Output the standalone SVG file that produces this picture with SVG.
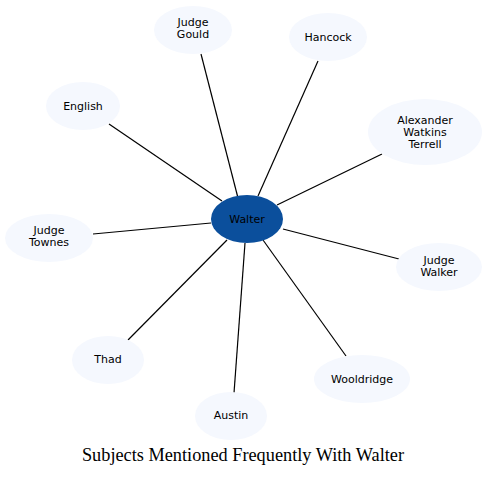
<svg xmlns="http://www.w3.org/2000/svg" width="487" height="477" viewBox="0 0 487 477">
<style>
.n{fill:#f5f8fe;stroke:none}
.c{fill:#0b4f9c;stroke:none}
.t{font-family:"DejaVu Sans",sans-serif;font-size:11px;fill:#000;text-anchor:middle}
.e{stroke:#000;stroke-width:1.2;fill:none}
.title{font-family:"Liberation Serif",serif;font-size:18.3px;fill:#000;text-anchor:middle}
</style>
<rect width="487" height="477" fill="#fff"/>
<g id="connectors">
<line class="e" x1="201" y1="54" x2="238" y2="198"/>
<line class="e" x1="318" y1="61" x2="258" y2="196"/>
<line class="e" x1="382" y1="154" x2="277" y2="205"/>
<line class="e" x1="109" y1="124" x2="222" y2="201"/>
<line class="e" x1="93" y1="234" x2="211" y2="223"/>
<line class="e" x1="399" y1="259" x2="283" y2="229"/>
<line class="e" x1="128" y1="340" x2="227" y2="240"/>
<line class="e" x1="234" y1="393" x2="245" y2="243"/>
<line class="e" x1="346" y1="356" x2="263" y2="240"/>
</g>
<g id="walter"><ellipse class="c" cx="247" cy="219" rx="36" ry="24"/><text class="t" x="247" y="223">Walter</text></g>
<g id="judge-gould"><ellipse class="n" cx="193" cy="30" rx="39" ry="24"/><text class="t" x="193" y="26">Judge</text><text class="t" x="193" y="38">Gould</text></g>
<g id="hancock"><ellipse class="n" cx="328" cy="37" rx="39" ry="24"/><text class="t" x="328" y="41">Hancock</text></g>
<g id="terrell"><ellipse class="n" cx="425" cy="132" rx="57" ry="33"/><text class="t" x="425" y="124">Alexander</text><text class="t" x="425" y="136">Watkins</text><text class="t" x="425" y="148">Terrell</text></g>
<g id="english"><ellipse class="n" cx="83" cy="106" rx="37" ry="24"/><text class="t" x="83" y="110">English</text></g>
<g id="judge-townes"><ellipse class="n" cx="49" cy="238" rx="44" ry="24"/><text class="t" x="49" y="234">Judge</text><text class="t" x="49" y="246">Townes</text></g>
<g id="judge-walker"><ellipse class="n" cx="439" cy="267" rx="43" ry="24"/><text class="t" x="439" y="264">Judge</text><text class="t" x="439" y="276">Walker</text></g>
<g id="thad"><ellipse class="n" cx="108" cy="360" rx="36" ry="24"/><text class="t" x="108" y="363">Thad</text></g>
<g id="austin"><ellipse class="n" cx="231" cy="416" rx="36" ry="24"/><text class="t" x="231" y="419">Austin</text></g>
<g id="wooldridge"><ellipse class="n" cx="362" cy="379" rx="48" ry="24"/><text class="t" x="362" y="383">Wooldridge</text></g>
<text class="title" x="243" y="461">Subjects Mentioned Frequently With Walter</text>
</svg>
